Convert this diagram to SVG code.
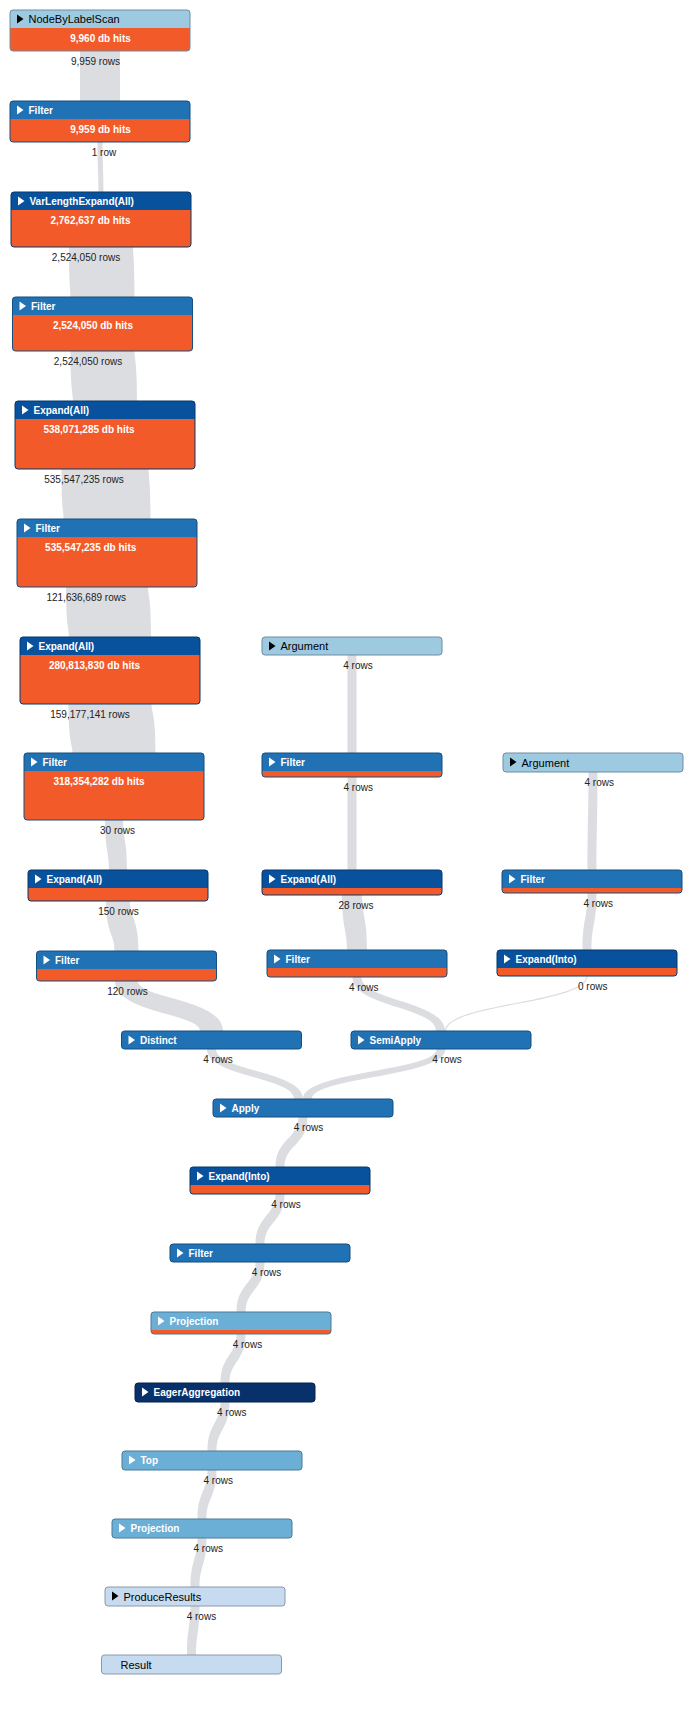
<svg xmlns="http://www.w3.org/2000/svg" xmlns:xlink="http://www.w3.org/1999/xlink" width="693" height="1734" viewBox="0 0 693 1734">
<style>
.bg{fill:#ffffff}
.lnk{fill:#dcdde0}
.thin{fill:none;stroke:#dcdde0;stroke-width:1.2}
.o{fill:#f25a29}
.c1{fill:#9ecae1}.c2{fill:#2171b5}.c3{fill:#08519c}.c4{fill:#08306b}.c5{fill:#6baed6}.c6{fill:#c6dbef}
.e{fill:none}
.s1{stroke:#6f8d9e}.s2{stroke:#174f7f}.s3{stroke:#06396d}.s4{stroke:#06224b}.s5{stroke:#4b7a96}.s6{stroke:#8b99a7}
.tw{font-family:"Liberation Sans",Arial,sans-serif;font-size:10px;font-weight:bold;fill:#ffffff}
.tb{font-family:"Liberation Sans",Arial,sans-serif;font-size:11px;fill:#000000}
.hit{font-family:"Liberation Sans",Arial,sans-serif;font-size:10px;font-weight:bold;fill:#ffffff;text-anchor:middle}
.rw{font-family:"Liberation Sans",Arial,sans-serif;font-size:10px;fill:#222222;text-anchor:middle}
.triw{fill:#ffffff}.trib{fill:#000000}
</style>
<defs>
<path id="hd" d="M0,18V3a3,3 0 0 1 3,-3H177a3,3 0 0 1 3,3V18Z"/>
<path id="tri" d="M7,4.5L13.5,9L7,13.5Z"/>
</defs>
<rect class="bg" width="693" height="1734"/>
<g id="connectors">
<path class="lnk" d="M120,51 C120,63.3 120,63.3 120,101 L80,101 C80,88.7 80,88.7 80,51Z"/>
<path class="lnk" d="M102.5,142 C102.5,165.4 103.5,165.4 103.5,192 L98.5,192 C98.5,168.6 97.5,168.6 97.5,142Z"/>
<path class="lnk" d="M133,247 C133,256.1 134.5,256.1 134.5,297 L70.5,297 C70.5,287.9 69,287.9 69,247Z"/>
<path class="lnk" d="M134.5,351 C134.5,360.1 137,360.1 137,401 L73,401 C73,391.9 70.5,391.9 70.5,351Z"/>
<path class="lnk" d="M148.5,469 C148.5,478.1 150.5,478.1 150.5,519 L63.5,519 C63.5,509.9 61.5,509.9 61.5,469Z"/>
<path class="lnk" d="M148,587 C148,596.1 151,596.1 151,637 L69,637 C69,627.9 66,627.9 66,587Z"/>
<path class="lnk" d="M151.5,704 C151.5,712.9 155.5,712.9 155.5,753 L72.5,753 C72.5,744.1 68.5,744.1 68.5,704Z"/>
<path class="lnk" d="M123,820 C123,839.3 127,839.3 127,870 L109,870 C109,850.7 105,850.7 105,820Z"/>
<path class="lnk" d="M130,901 C130,918.4 138.5,918.4 138.5,951 L114.5,951 C114.5,933.6 106,933.6 106,901Z"/>
<path class="lnk" d="M138,981 C138,998.7 223,998.7 223,1031 L200,1031 C200,1013.3 115,1013.3 115,981Z"/>
<path class="lnk" d="M216,1049 C216,1071.1 303,1071.1 303,1099 L294,1099 C294,1076.9 207,1076.9 207,1049Z"/>
<path class="lnk" d="M445.5,1049 C445.5,1076.9 312,1076.9 312,1099 L303,1099 C303,1071.1 436.5,1071.1 436.5,1049Z"/>
<path class="lnk" d="M356.5,655 L356.5,753 L347.5,753 L347.5,655Z"/>
<path class="lnk" d="M356.5,777 L356.5,870 L347.5,870 L347.5,777Z"/>
<path class="lnk" d="M362,895 C362,916.1 367,916.1 367,950 L347,950 C347,928.9 342,928.9 342,895Z"/>
<path class="lnk" d="M361.5,977 C361.5,1001.1 445,1001.1 445,1031 L436,1031 C436,1006.9 352.5,1006.9 352.5,977Z"/>
<path class="lnk" d="M597.5,772 C597.5,823.9 596.5,823.9 596.5,870 L587.5,870 C587.5,818.1 588.5,818.1 588.5,772Z"/>
<path class="lnk" d="M596.5,893 C596.5,924.4 591.5,924.4 591.5,950 L582.5,950 C582.5,918.6 587.5,918.6 587.5,893Z"/>
<path class="thin" d="M587,976 C587,1003.5 445.5,1003.5 445.5,1031"/>
<path class="lnk" d="M307.5,1117 C307.5,1144.9 284.5,1144.9 284.5,1167 L275.5,1167 C275.5,1139.1 298.5,1139.1 298.5,1117Z"/>
<path class="lnk" d="M284.5,1194 C284.5,1221.9 264.5,1221.9 264.5,1244 L255.5,1244 C255.5,1216.1 275.5,1216.1 275.5,1194Z"/>
<path class="lnk" d="M264.5,1262 C264.5,1289.9 245.5,1289.9 245.5,1312 L236.5,1312 C236.5,1284.1 255.5,1284.1 255.5,1262Z"/>
<path class="lnk" d="M245.5,1334 C245.5,1361.4 229.5,1361.4 229.5,1383 L220.5,1383 C220.5,1355.6 236.5,1355.6 236.5,1334Z"/>
<path class="lnk" d="M229.5,1402 C229.5,1429.4 216.5,1429.4 216.5,1451 L207.5,1451 C207.5,1423.6 220.5,1423.6 220.5,1402Z"/>
<path class="lnk" d="M216.5,1470 C216.5,1497.4 206.5,1497.4 206.5,1519 L197.5,1519 C197.5,1491.6 207.5,1491.6 207.5,1470Z"/>
<path class="lnk" d="M206.5,1538 C206.5,1565.4 199.5,1565.4 199.5,1587 L190.5,1587 C190.5,1559.6 197.5,1559.6 197.5,1538Z"/>
<path class="lnk" d="M199.5,1606 C199.5,1633.4 196,1633.4 196,1655 L187,1655 C187,1627.6 190.5,1627.6 190.5,1606Z"/>
<g id="row-labels">
<text class="rw" x="95.5" y="65">9,959 rows</text>
<text class="rw" x="104" y="156">1 row</text>
<text class="rw" x="86" y="261">2,524,050 rows</text>
<text class="rw" x="88" y="365">2,524,050 rows</text>
<text class="rw" x="84" y="483">535,547,235 rows</text>
<text class="rw" x="86.2" y="601">121,636,689 rows</text>
<text class="rw" x="90" y="718">159,177,141 rows</text>
<text class="rw" x="117.5" y="834">30 rows</text>
<text class="rw" x="118.5" y="915">150 rows</text>
<text class="rw" x="127.5" y="995">120 rows</text>
<text class="rw" x="218" y="1063">4 rows</text>
<text class="rw" x="447" y="1063">4 rows</text>
<text class="rw" x="308.5" y="1131">4 rows</text>
<text class="rw" x="286" y="1208">4 rows</text>
<text class="rw" x="266.5" y="1276">4 rows</text>
<text class="rw" x="247.4" y="1348">4 rows</text>
<text class="rw" x="231.7" y="1416">4 rows</text>
<text class="rw" x="218.2" y="1484">4 rows</text>
<text class="rw" x="208.2" y="1552">4 rows</text>
<text class="rw" x="201.4" y="1620">4 rows</text>
<text class="rw" x="358" y="669">4 rows</text>
<text class="rw" x="358.2" y="791">4 rows</text>
<text class="rw" x="356" y="909">28 rows</text>
<text class="rw" x="363.7" y="991">4 rows</text>
<text class="rw" x="599.2" y="786">4 rows</text>
<text class="rw" x="598.2" y="907">4 rows</text>
<text class="rw" x="592.7" y="990">0 rows</text>
</g>
</g>
<g id="n1" transform="translate(10,10)">
<rect class="o" width="180" height="41" rx="3"/>
<use href="#hd" class="c1"/>
<rect class="e s1" width="180" height="41" rx="3"/>
<use href="#tri" class="trib"/>
<text class="tb" x="18.5" y="13">NodeByLabelScan</text>
<text class="hit" x="90.5" y="32">9,960 db hits</text>
</g>
<g id="n2" transform="translate(10,101)">
<rect class="o" width="180" height="41" rx="3"/>
<use href="#hd" class="c2"/>
<rect class="e s2" width="180" height="41" rx="3"/>
<use href="#tri" class="triw"/>
<text class="tw" x="18.5" y="13">Filter</text>
<text class="hit" x="90.5" y="32">9,959 db hits</text>
</g>
<g id="n3" transform="translate(11,192)">
<rect class="o" width="180" height="55" rx="3"/>
<use href="#hd" class="c3"/>
<rect class="e s3" width="180" height="55" rx="3"/>
<use href="#tri" class="triw"/>
<text class="tw" x="18.5" y="13">VarLengthExpand(All)</text>
<text class="hit" x="79.5" y="32">2,762,637 db hits</text>
</g>
<g id="n4" transform="translate(12.5,297)">
<rect class="o" width="180" height="54" rx="3"/>
<use href="#hd" class="c2"/>
<rect class="e s2" width="180" height="54" rx="3"/>
<use href="#tri" class="triw"/>
<text class="tw" x="18.5" y="13">Filter</text>
<text class="hit" x="80.5" y="32">2,524,050 db hits</text>
</g>
<g id="n5" transform="translate(15,401)">
<rect class="o" width="180" height="68" rx="3"/>
<use href="#hd" class="c3"/>
<rect class="e s3" width="180" height="68" rx="3"/>
<use href="#tri" class="triw"/>
<text class="tw" x="18.5" y="13">Expand(All)</text>
<text class="hit" x="74" y="32">538,071,285 db hits</text>
</g>
<g id="n6" transform="translate(17,519)">
<rect class="o" width="180" height="68" rx="3"/>
<use href="#hd" class="c2"/>
<rect class="e s2" width="180" height="68" rx="3"/>
<use href="#tri" class="triw"/>
<text class="tw" x="18.5" y="13">Filter</text>
<text class="hit" x="73.7" y="32">535,547,235 db hits</text>
</g>
<g id="n7" transform="translate(20,637)">
<rect class="o" width="180" height="67" rx="3"/>
<use href="#hd" class="c3"/>
<rect class="e s3" width="180" height="67" rx="3"/>
<use href="#tri" class="triw"/>
<text class="tw" x="18.5" y="13">Expand(All)</text>
<text class="hit" x="74.5" y="32">280,813,830 db hits</text>
</g>
<g id="n8" transform="translate(24,753)">
<rect class="o" width="180" height="67" rx="3"/>
<use href="#hd" class="c2"/>
<rect class="e s2" width="180" height="67" rx="3"/>
<use href="#tri" class="triw"/>
<text class="tw" x="18.5" y="13">Filter</text>
<text class="hit" x="75" y="32">318,354,282 db hits</text>
</g>
<g id="n9" transform="translate(28,870)">
<rect class="o" width="180" height="31" rx="3"/>
<use href="#hd" class="c3"/>
<rect class="e s3" width="180" height="31" rx="3"/>
<use href="#tri" class="triw"/>
<text class="tw" x="18.5" y="13">Expand(All)</text>
</g>
<g id="n10" transform="translate(36.5,951)">
<rect class="o" width="180" height="30" rx="3"/>
<use href="#hd" class="c2"/>
<rect class="e s2" width="180" height="30" rx="3"/>
<use href="#tri" class="triw"/>
<text class="tw" x="18.5" y="13">Filter</text>
</g>
<g id="n11" transform="translate(121.5,1031)">
<rect class="c2 s2" width="180" height="18" rx="3"/>
<use href="#tri" class="triw"/>
<text class="tw" x="18.5" y="13">Distinct</text>
</g>
<g id="n12" transform="translate(351,1031)">
<rect class="c2 s2" width="180" height="18" rx="3"/>
<use href="#tri" class="triw"/>
<text class="tw" x="18.5" y="13">SemiApply</text>
</g>
<g id="n13" transform="translate(213,1099)">
<rect class="c2 s2" width="180" height="18" rx="3"/>
<use href="#tri" class="triw"/>
<text class="tw" x="18.5" y="13">Apply</text>
</g>
<g id="n14" transform="translate(190,1167)">
<rect class="o" width="180" height="27" rx="3"/>
<use href="#hd" class="c3"/>
<rect class="e s3" width="180" height="27" rx="3"/>
<use href="#tri" class="triw"/>
<text class="tw" x="18.5" y="13">Expand(Into)</text>
</g>
<g id="n15" transform="translate(170,1244)">
<rect class="c2 s2" width="180" height="18" rx="3"/>
<use href="#tri" class="triw"/>
<text class="tw" x="18.5" y="13">Filter</text>
</g>
<g id="n16" transform="translate(151,1312)">
<rect class="o" width="180" height="22" rx="3"/>
<use href="#hd" class="c5"/>
<rect class="e s5" width="180" height="22" rx="3"/>
<use href="#tri" class="triw"/>
<text class="tw" x="18.5" y="13">Projection</text>
</g>
<g id="n17" transform="translate(135,1383)">
<rect class="c4 s4" width="180" height="19" rx="3"/>
<use href="#tri" class="triw"/>
<text class="tw" x="18.5" y="13">EagerAggregation</text>
</g>
<g id="n18" transform="translate(122,1451)">
<rect class="c5 s5" width="180" height="19" rx="3"/>
<use href="#tri" class="triw"/>
<text class="tw" x="18.5" y="13">Top</text>
</g>
<g id="n19" transform="translate(112,1519)">
<rect class="c5 s5" width="180" height="19" rx="3"/>
<use href="#tri" class="triw"/>
<text class="tw" x="18.5" y="13">Projection</text>
</g>
<g id="n20" transform="translate(105,1587)">
<rect class="c6 s6" width="180" height="19" rx="3"/>
<use href="#tri" class="trib"/>
<text class="tb" x="18.5" y="13.5">ProduceResults</text>
</g>
<g id="n21" transform="translate(101.5,1655)">
<rect class="c6 s6" width="180" height="19" rx="3"/>
<text class="tb" x="19" y="13.5">Result</text>
</g>
<g id="n22" transform="translate(262,637)">
<rect class="c1 s1" width="180" height="18" rx="3"/>
<use href="#tri" class="trib"/>
<text class="tb" x="18.5" y="13">Argument</text>
</g>
<g id="n23" transform="translate(262,753)">
<rect class="o" width="180" height="24" rx="3"/>
<use href="#hd" class="c2"/>
<rect class="e s2" width="180" height="24" rx="3"/>
<use href="#tri" class="triw"/>
<text class="tw" x="18.5" y="13">Filter</text>
</g>
<g id="n24" transform="translate(262,870)">
<rect class="o" width="180" height="25" rx="3"/>
<use href="#hd" class="c3"/>
<rect class="e s3" width="180" height="25" rx="3"/>
<use href="#tri" class="triw"/>
<text class="tw" x="18.5" y="13">Expand(All)</text>
</g>
<g id="n25" transform="translate(267,950)">
<rect class="o" width="180" height="27" rx="3"/>
<use href="#hd" class="c2"/>
<rect class="e s2" width="180" height="27" rx="3"/>
<use href="#tri" class="triw"/>
<text class="tw" x="18.5" y="13">Filter</text>
</g>
<g id="n26" transform="translate(503,753)">
<rect class="c1 s1" width="180" height="19" rx="3"/>
<use href="#tri" class="trib"/>
<text class="tb" x="18.5" y="13.5">Argument</text>
</g>
<g id="n27" transform="translate(502,870)">
<rect class="o" width="180" height="23" rx="3"/>
<use href="#hd" class="c2"/>
<rect class="e s2" width="180" height="23" rx="3"/>
<use href="#tri" class="triw"/>
<text class="tw" x="18.5" y="13">Filter</text>
</g>
<g id="n28" transform="translate(497,950)">
<rect class="o" width="180" height="26" rx="3"/>
<use href="#hd" class="c3"/>
<rect class="e s3" width="180" height="26" rx="3"/>
<use href="#tri" class="triw"/>
<text class="tw" x="18.5" y="13">Expand(Into)</text>
</g>
</svg>
